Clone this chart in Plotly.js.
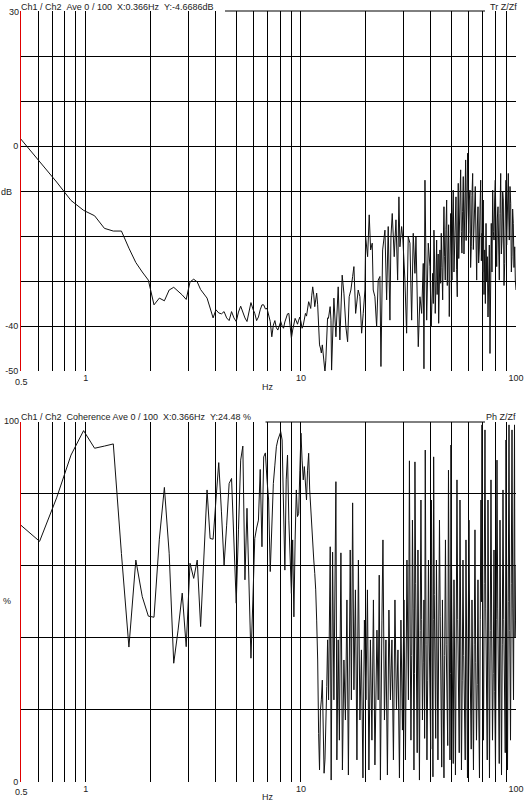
<!DOCTYPE html>
<html><head><meta charset="utf-8">
<script src="https://cdn.plot.ly/plotly-3.0.1.min.js"></script>
<style>html,body{margin:0;padding:0;background:#fff;overflow:hidden}#chart{width:524px;height:804px}</style>
</head><body><div id="chart"></div>
<script>
// ---- Transfer function magnitude (top) ----
const topFreq = [0.488,0.610,0.732,0.854,0.977,1.099,1.221,1.343,1.465,1.587,1.709,1.831,1.954,2.076,2.198,2.320,2.442,2.564,2.686,2.808,2.930,3.053,3.175,3.297,3.419,3.541,3.663,3.785,3.907,4.029,4.151,4.273,4.396,4.518,4.640,4.762,4.884,5.006,5.128,5.250,5.372,5.495,5.617,5.739,5.861,5.983,6.105,6.227,6.349,6.471,6.593,6.716,6.838,6.960,7.082,7.204,7.326,7.448,7.570,7.692,7.814,7.937,8.059,8.181,8.303,8.425,8.547,8.669,8.791,8.913,9.035,9.158,9.280,9.402,9.524,9.646,9.768,9.890,10.01,10.13,10.26,10.38,10.50,10.62,10.74,10.87,10.99,11.11,11.23,11.35,11.48,11.60,11.72,11.84,11.97,12.09,12.21,12.33,12.45,12.58,12.70,12.82,12.94,13.06,13.19,13.31,13.43,13.55,13.68,13.80,
13.89,14.24,14.55,14.91,15.18,15.56,15.85,16.19,16.49,16.77,17.08,17.40,17.64,17.97,18.16,18.47,18.81,19.16,19.49,19.85,20.00,20.43,20.78,21.10,21.46,21.69,22.09,22.50,22.88,23.30,23.56,23.99,24.59,25.04,25.47,25.94,26.22,26.59,27.16,27.67,28.17,28.56,28.87,29.40,29.81,30.45,31.01,31.55,32.14,32.73,33.29,33.90,34.27,34.75,35.13,35.77,36.43,37.06,37.33,37.74,38.44,39.10,39.81,
40.36,40.68,40.99,41.27,41.55,41.85,42.14,42.45,42.77,43.00,43.23,43.47,43.70,44.00,44.31,44.62,44.94,45.27,45.61,45.93,46.25,46.57,46.90,47.25,47.61,47.94,48.27,48.61,48.96,49.33,49.70,50.04,50.39,50.74,51.10,51.48,51.87,52.23,52.60,52.96,53.33,53.61,53.90,54.19,54.48,54.89,55.30,55.68,56.07,56.47,56.87,57.30,57.73,58.03,58.34,58.66,58.98,59.29,59.61,59.93,60.26,60.67,61.09,61.52,61.96,62.42,62.89,63.33,63.78,64.22,64.67,65.16,65.65,66.11,66.58,67.04,67.51,68.02,68.53,69.01,69.50,69.98,70.47,71.00,71.53,72.04,72.55,73.05,73.56,74.10,74.64,75.17,75.70,76.22,76.75,77.33,77.91,78.46,79.02,79.57,80.12,80.72,81.33,81.90,82.48,83.05,83.63,84.26,84.89,85.49,86.09,86.69,87.30,87.95,88.61,89.23,89.86,90.49,91.12,91.61,92.10,92.59,93.08,93.78,94.48,95.14,95.81,96.47,97.14,97.88,98.63,99.30,100];
const topDb = [2.1,-3.4,-8.0,-12.1,-14.3,-15.5,-18.3,-18.9,-18.9,-22.7,-25.9,-28.0,-29.8,-35.3,-33.8,-34.4,-32.0,-31.4,-32.2,-33.1,-34.1,-30.2,-29.6,-30.2,-31.9,-32.9,-33.8,-36.0,-38.2,-36.4,-37.1,-37.3,-36.8,-38.2,-38.8,-36.8,-38.2,-39.0,-36.9,-35.6,-37.1,-38.2,-39.0,-36.4,-34.8,-36.2,-37.2,-38.8,-38.0,-36.4,-35.3,-35.3,-36.2,-36.1,-37.6,-39.0,-42.4,-39.8,-38.8,-40.4,-40.9,-39.8,-39.0,-40.0,-40.5,-39.1,-38.0,-37.3,-37.2,-40.0,-42.7,-40.9,-39.1,-38.3,-38.9,-39.6,-38.7,-38.0,-39.1,-40.5,-39.8,-38.2,-37.2,-37.8,-35.6,-34.6,-35.3,-36.1,-33.3,-31.3,-33.1,-35.7,-34.2,-32.7,-35.3,-40.9,-44.2,-44.9,-46.0,-44.2,-46.1,-48.7,-50.2,-47.6,-42.0,-38.2,-38.3,-36.9,-35.7,-38.7,
-49.8,-33.8,-42.4,-31.3,-43.1,-28.7,-32.7,-40.2,-43.5,-33.5,-32.0,-29.0,-26.8,-37.2,-35.0,-32.0,-33.5,-41.6,-37.2,-32.0,-20.2,-24.6,-15.3,-23.1,-21.6,-32.0,-33.5,-40.2,-29.8,-29.0,-49.0,-23.1,-18.7,-34.2,-17.9,-38.7,-20.2,-15.0,-24.6,-16.4,-29.8,-11.3,-22.4,-17.9,-20.9,-29.8,-41.6,-20.2,-21.6,-38.7,-19.4,-28.3,-20.2,-32.7,-44.6,-33.5,-37.2,-26.1,-49.5,-7.6,-38.7,-21.6,-26.8,
-40.2,-30.5,-28.3,-35.0,-18.7,-26.0,-37.2,-30.0,-20.9,-33.0,-29.0,-24.0,-39.4,-31.0,-23.1,-30.5,-19.4,-27.0,-34.2,-22.0,-13.5,-24.5,-29.8,-18.5,-12.0,-31.0,-24.6,-17.5,-37.9,-26.0,-15.0,-22.0,-29.8,-16.0,-9.8,-28.0,-23.1,-14.0,-11.3,-27.5,-33.5,-18.0,-8.3,-25.0,-20.9,-12.0,-5.3,-19.0,-23.8,-14.5,-6.8,-24.0,-17.9,-10.0,-3.1,-21.0,-13.5,-8.0,-1.6,-14.0,-19.4,-12.0,-9.8,-27.0,-22.4,-11.0,-6.1,-23.0,-17.2,-12.5,-9.0,-20.0,-29.8,-18.0,-13.5,-26.0,-23.1,-14.0,-7.6,-25.5,-19.4,-28.0,-12.0,-33.0,-23.1,-35.0,-17.2,-30.0,-24.6,-38.0,-29.8,-22.0,-46.1,-25.0,-17.2,-28.0,-9.8,-19.0,-20.9,-12.0,-7.6,-18.0,-26.8,-16.0,-13.5,-22.0,-29.8,-15.0,-6.1,-24.0,-20.9,-10.0,-12.0,-31.0,-26.1,-14.0,-7.6,-22.0,-17.2,-11.0,-6.1,-16.0,-20.9,-9.0,-12.7,-28.0,-24.6,-14.0,-17.2,-27.0,-22.4,-30.0,-32.0];

// ---- Coherence (bottom) ----
const cohFreq = [0.488,0.610,0.732,0.854,0.977,1.099,1.221,1.343,1.465,1.587,1.709,1.831,1.954,2.076,2.198,2.320,2.442,2.564,2.686,2.808,2.930,3.053,3.175,3.297,3.419,3.541,3.663,3.785,3.907,4.029,4.151,4.273,4.396,4.518,4.640,4.762,4.884,5.006,5.128,5.250,5.372,5.495,5.617,5.739,5.861,5.983,6.105,6.227,6.349,6.471,6.593,6.716,6.838,6.960,7.082,7.204,7.326,7.448,7.570,7.692,7.814,7.937,8.059,8.181,8.303,8.425,8.547,8.669,8.791,8.913,9.035,9.158,9.280,9.402,9.524,9.646,9.768,9.890,10.01,10.13,10.26,10.38,10.50,10.62,10.74,10.87,10.99,11.11,11.23,11.35,11.48,11.60,11.72,11.84,11.97,12.09,12.21,12.33,12.45,12.58,12.70,12.82,12.94,13.06,13.19,13.31,
13.45,13.69,13.83,14.04,14.24,14.55,14.70,14.91,15.10,15.35,15.60,15.85,16.11,16.37,16.63,16.96,17.17,17.40,17.64,17.93,18.22,18.51,18.81,19.12,19.43,19.74,20.06,20.39,20.71,21.05,21.39,21.74,22.09,22.57,22.88,23.13,23.43,23.81,24.07,24.46,24.85,25.25,25.66,26.08,26.50,26.93,27.37,27.81,28.26,28.72,29.18,29.66,30.14,30.62,31.12,
31.62,31.96,32.22,32.48,32.75,33.01,33.27,33.54,33.72,33.90,34.17,34.45,34.73,35.01,35.30,35.58,35.86,36.15,36.44,36.74,37.03,37.33,37.60,37.86,38.20,38.55,38.86,39.18,39.50,39.81,40.13,40.46,40.78,41.11,41.27,41.42,41.71,42.00,42.34,42.68,43.02,43.37,43.72,44.08,44.43,44.79,45.15,45.51,45.88,46.25,46.62,47.00,47.38,47.76,48.15,48.54,48.93,49.32,49.58,49.85,50.25,50.66,51.07,51.48,51.89,52.31,52.73,53.16,53.59,54.02,54.46,54.90,55.34,55.78,56.23,56.69,57.15,57.61,58.07,58.54,59.01,59.49,59.97,60.45,60.94,61.43,61.92,62.42,62.92,63.43,63.94,64.46,64.98,65.51,66.04,66.57,67.10,67.64,68.19,68.74,69.11,69.48,70.04,70.61,71.18,71.75,72.33,72.91,73.50,74.09,74.69,75.29,75.90,76.51,77.13,77.75,78.38,79.01,79.65,80.29,80.94,81.59,82.25,82.91,83.58,84.25,84.93,85.62,86.31,87.00,87.70,88.41,89.12,89.84,90.57,91.30,92.04,92.78,93.53,94.28,95.04,95.81,96.58,97.36,97.88,98.41,98.94,99.47,100];
const cohPct = [71.8,66.8,78.9,90.8,97.6,92.7,93.3,93.9,63.4,37.4,61.6,51.4,46.0,45.7,67.4,81.8,63.5,32.9,42.1,52.4,37.5,60.7,56.5,61.6,43.1,61.6,81.1,67.6,67.4,78.3,88.7,75.0,60.2,71.3,82.9,84.3,67.2,49.6,70.0,89.4,93.3,56.1,76.0,50.5,34.3,50.5,67.6,70.5,72.7,86.8,65.3,90.3,91.4,83.9,78.3,58.4,70.0,82.9,88.0,93.1,95.0,96.4,97.3,95.0,78.3,58.8,83.9,90.8,72.7,59.7,52.3,67.2,45.8,67.2,81.1,73.7,74.6,86.6,96.9,89.4,83.9,87.6,81.1,78.3,86.6,91.3,81.1,75.5,70.0,65.3,61.6,57.9,53.3,44.9,33.8,13.4,3.2,19.9,22.7,28.2,11.5,2.3,6.0,22.7,26.4,39.4,
22.7,65.3,0.4,63.8,22.7,83.4,6.0,39.4,11.5,63.6,3.2,33.8,17.1,50.5,1.8,64.4,22.7,77.5,25.5,53.3,6.0,61.6,17.1,36.6,1.0,44.9,22.7,53.3,3.2,39.4,11.5,50.5,4.6,42.1,22.7,57.4,0.4,44.9,67.2,17.1,39.4,1.8,47.7,22.7,39.4,6.0,50.5,19.9,36.6,1.0,44.9,14.3,50.5,6.0,61.6,
22.7,89.2,40.0,11.5,35.0,72.7,48.0,3.2,30.0,88.9,55.0,22.7,8.0,64.4,30.0,0.4,42.0,78.3,45.0,17.1,33.0,50.5,12.0,92.2,38.0,6.0,28.0,61.6,40.0,22.7,9.0,78.3,35.0,1.3,45.0,90.3,52.0,28.2,12.0,61.6,30.0,6.0,40.0,72.7,46.0,17.1,4.0,50.5,25.0,1.0,35.0,67.2,38.0,22.7,10.0,86.6,44.0,6.0,30.0,93.6,50.0,17.1,5.0,56.1,30.0,1.8,40.0,83.9,45.0,22.7,8.0,78.3,40.0,3.2,28.0,61.6,35.0,17.1,6.0,67.2,30.0,1.0,42.0,72.7,40.0,22.7,9.0,50.5,25.0,3.2,38.0,70.0,33.0,11.5,27.0,56.1,20.0,1.0,45.0,78.3,50.0,99.2,40.0,11.5,55.0,97.8,48.0,22.7,6.0,78.3,36.0,1.0,42.0,83.9,40.0,11.5,30.0,64.4,25.0,3.2,45.0,89.4,48.0,17.1,5.0,72.7,35.0,1.8,38.0,81.1,45.0,22.7,8.0,95.0,40.0,3.2,50.0,99.2,42.0,11.5,55.0,97.8,48.0,22.7,60.0,99.2,40.0,44.9,60.0];

// ---- Axis ticks / labels ----
const xTickVals = [0.5,0.6,0.7,0.8,0.9,1,2,3,4,5,6,7,8,9,10,20,30,40,50,60,70,80,90,100];
const xTickText = ['','','','','','1','','','','','','','','','10','','','','','','','','','100'];
const xStartLabel = '0.5';
const dbTickVals = [-50,-40,-30,-20,-10,0,10,20];
const dbTickText = ['-50','-40','','','','0','',''];
const pctTickVals = [0,20,40,60,80];
const pctTickText = ['0','','','',''];
const topTitle = 'Ch1 / Ch2\u00a0\u00a0Ave 0 / 100\u00a0\u00a0X:0.366Hz\u00a0\u00a0Y:-4.6686dB';
const botTitle = 'Ch1 / Ch2\u00a0\u00a0Coherence Ave 0 / 100\u00a0\u00a0X:0.366Hz\u00a0\u00a0Y:24.48 %';

const W = 524, H = 804;
const FONT = 'Liberation Sans, Arial, sans-serif';
const TXT = '#222';
const px = v => v / W;
const py = v => 1 - v / H;

const xCommon = {
  type: 'log', range: [Math.log10(0.5), 2], domain: [px(21), px(516)],
  tickmode: 'array', tickvals: xTickVals, ticktext: xTickText,
  showgrid: true, gridcolor: '#000', gridwidth: 1, zeroline: false, showline: false,
  ticks: '', tickfont: {family: FONT, size: 9, color: TXT}, fixedrange: true
};
const yCommon = {
  showgrid: true, gridcolor: '#000', gridwidth: 1, zeroline: false,
  showline: true, linecolor: '#e00000', linewidth: 1, ticks: '',
  tickfont: {family: FONT, size: 9, color: TXT}, tickmode: 'array', fixedrange: true
};

const data = [
  {x: topFreq, y: topDb, type: 'scatter', mode: 'lines', xaxis: 'x', yaxis: 'y',
   line: {color: '#111', width: 1}, hoverinfo: 'skip'},
  {x: cohFreq, y: cohPct, type: 'scatter', mode: 'lines', xaxis: 'x2', yaxis: 'y2',
   line: {color: '#111', width: 1}, hoverinfo: 'skip'}
];

function ann(text, x, y, xanchor, extra) {
  return Object.assign({text, x, y, xref: 'paper', yref: 'paper', xanchor, yanchor: 'middle',
    showarrow: false, borderpad: 0, font: {family: FONT, size: 9, color: TXT}}, extra || {});
}

const layout = {
  width: W, height: H, autosize: false,
  margin: {l: 0, r: 0, t: 0, b: 0, pad: 0},
  paper_bgcolor: '#fff', plot_bgcolor: '#fff', showlegend: false,
  xaxis: Object.assign({}, xCommon, {anchor: 'y'}),
  yaxis: Object.assign({}, yCommon, {domain: [py(371), py(11)], range: [-50, 30], tickvals: dbTickVals, ticktext: dbTickText, anchor: 'x'}),
  xaxis2: Object.assign({}, xCommon, {anchor: 'y2'}),
  yaxis2: Object.assign({}, yCommon, {domain: [py(781.5), py(422)], range: [0, 100], tickvals: pctTickVals, ticktext: pctTickText, anchor: 'x2'}),
  shapes: [
    {type: 'line', xref: 'x domain', yref: 'y domain', x0: (225 - 21) / 495, x1: (485 - 21) / 495, y0: 1, y1: 1, line: {color: '#000', width: 1}},
    {type: 'line', xref: 'x2 domain', yref: 'y2 domain', x0: (265.5 - 21) / 495, x1: (485 - 21) / 495, y0: 1, y1: 1, line: {color: '#000', width: 1}}
  ],
  annotations: [
    ann(topTitle, px(20), py(7), 'left'),
    ann('Tr Z/Zf', px(518), py(7), 'right'),
    ann(botTitle, px(20), py(416.5), 'left'),
    ann('Ph Z/Zf', px(517), py(417), 'right'),
    ann('30', px(19.5), py(11.5), 'right'),
    ann('100', px(19.5), py(421), 'right'),
    ann('dB', px(0), py(191.5), 'left'),
    ann('%', px(2), py(601), 'left'),
    ann(xStartLabel, px(21), py(382), 'center'),
    ann(xStartLabel, px(21), py(792), 'center'),
    ann('Hz', px(268), py(387), 'center'),
    ann('Hz', px(268), py(796.5), 'center')
  ]
};

Plotly.newPlot('chart', data, layout, {staticPlot: true, displayModeBar: false});
</script>
</body></html>
